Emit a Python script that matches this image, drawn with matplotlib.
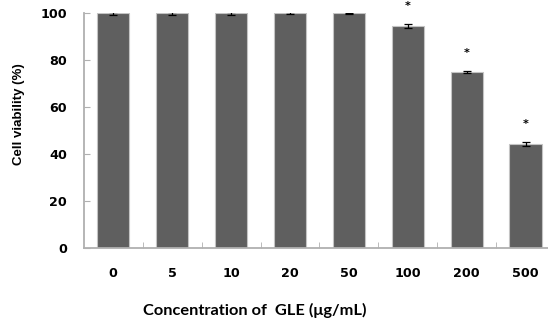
import numpy as np
import matplotlib
matplotlib.use("Agg")
from matplotlib import pyplot as plt

concentrations = ["0", "5", "10", "20", "50", "100", "200", "500"]
viability = [100.0, 100.0, 100.0, 100.2, 100.1, 94.8, 75.0, 44.3]
errors = [0.7, 0.6, 0.6, 0.3, 0.3, 0.9, 0.6, 0.7]
significant = [False, False, False, False, False, True, True, True]

plt.rcParams['font.family'] = ['DejaVu Sans']
plt.rcParams['font.weight'] = 'bold'

fig = plt.figure(figsize=(5.48, 3.2), dpi=100)
ax = fig.add_axes([0.153, 0.226, 0.860, 0.732])

x = np.arange(len(concentrations))
ax.bar(x, viability, width=0.55, color='#5f5f5f', edgecolor='#c4c4c4', linewidth=0.8,
       yerr=errors, error_kw=dict(ecolor='black', elinewidth=0.9, capsize=3, capthick=0.9))

for xi, v, sig in zip(x, viability, significant):
    if sig:
        ax.text(xi, v + 8.3, '*', ha='center', va='center', fontsize=8,
                fontweight='bold', clip_on=False)

ax.set_xlim(-0.5, len(concentrations) - 0.5)
ax.set_ylim(0, 100)
ax.set_yticks([0, 20, 40, 60, 80, 100])
ax.set_xticks(x)
ax.set_xticklabels(concentrations)
ax.set_xticks(np.arange(len(concentrations)) + 0.5, minor=True)

ax.tick_params(axis='x', which='major', length=0, pad=14, labelsize=9.2)
ax.tick_params(axis='x', which='minor', direction='in', length=4, color='#b0b0b0')
ax.tick_params(axis='y', direction='in', length=4, color='#b0b0b0', pad=12, labelsize=9.2)

for side in ['top', 'right']:
    ax.spines[side].set_visible(False)
for side in ['left', 'bottom']:
    ax.spines[side].set_color('#b0b0b0')
    ax.spines[side].set_linewidth(1.3)

fig.text(0.035, 0.644, 'Cell viability (%)', rotation=90, ha='center', va='center',
         fontsize=9.5, fontweight='bold', family='Liberation Sans')
fig.text(0.464, 0.03, 'Concentration of  GLE (\u03bcg/mL)', ha='center', va='center',
         fontsize=11.8, fontweight='bold', family=['Lato', 'DejaVu Sans'])

fig.savefig('out.png', dpi=100)
